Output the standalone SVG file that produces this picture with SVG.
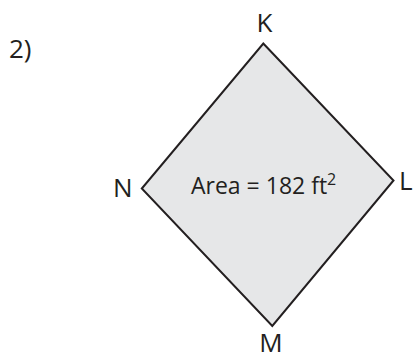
<svg xmlns="http://www.w3.org/2000/svg" width="416" height="360" viewBox="0 0 416 360">
<style>
.lbl{font-family:"Open Sans","Liberation Sans",sans-serif;font-size:26px;fill:#231f20}
.area{font-family:"Open Sans","Liberation Sans",sans-serif;font-size:23px;fill:#231f20}
.shape{fill:#e6e7e8;stroke:#231f20;stroke-width:2;stroke-linejoin:miter}
</style>
<rect width="416" height="360" fill="#ffffff"/>
<text class="lbl" x="9" y="58">2)</text>
<g id="rhombus">
<polygon class="shape" points="263.3,43.5 393.5,180.5 272.3,326 141.8,188.5"/>
<text class="area" x="191" y="194">Area = 182 ft<tspan font-size="16" dy="-9">2</tspan></text>
</g>
<g id="K"><text class="lbl" x="264.5" y="32" text-anchor="middle">K</text></g>
<g id="L"><text class="lbl" x="399" y="190">L</text></g>
<g id="M"><text class="lbl" x="271" y="352" text-anchor="middle">M</text></g>
<g id="N"><text class="lbl" x="113" y="197">N</text></g>
</svg>
